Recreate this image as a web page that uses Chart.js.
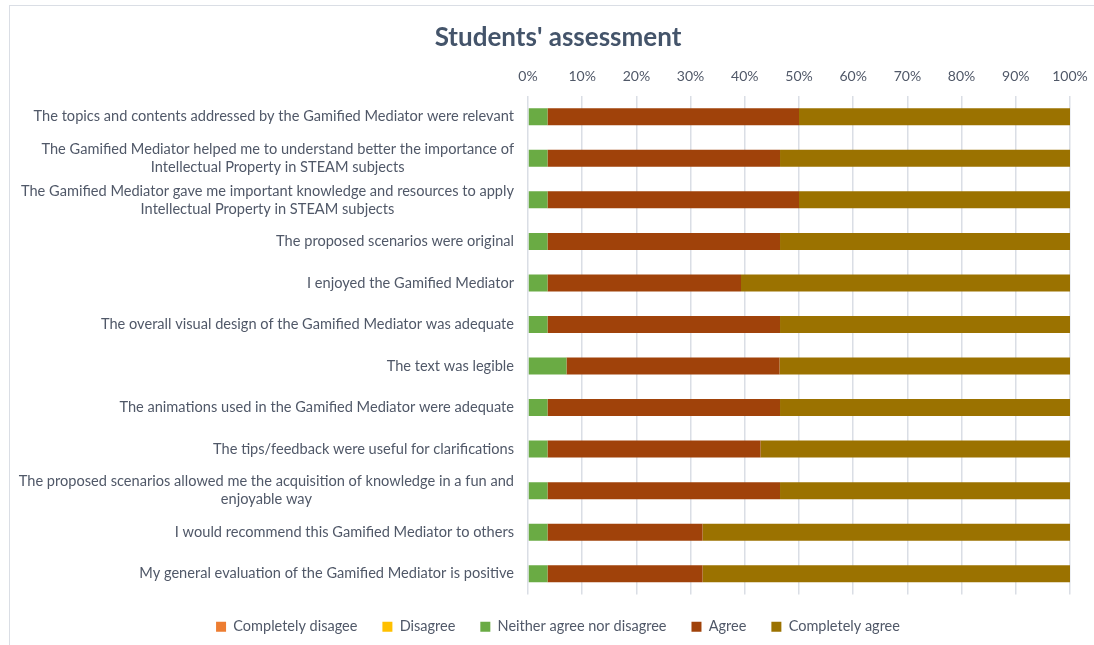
<!DOCTYPE html>
<html>
<head>
<meta charset="utf-8">
<script src="https://cdn.jsdelivr.net/npm/chart.js@4/dist/chart.umd.min.js"></script>
<style>
  html, body { margin: 0; padding: 0; background: #fff; overflow: hidden; }
  #frame { position: absolute; left: 9px; top: 5px; width: 1200px; height: 800px; border: 1px solid #dadee5; }
  #wrap { position: absolute; left: 0; top: 0; width: 1094px; height: 645px; }
</style>
</head>
<body>
<div id="frame"></div>
<div id="wrap"><canvas id="chart"></canvas></div>
<script>
// Survey statements (two-line entries keep the original line breaks)
const statements = [
    'The topics and contents addressed by the Gamified Mediator were relevant',
    ['The Gamified Mediator helped me to understand better the importance of', 'Intellectual Property in STEAM subjects'],
    ['The Gamified Mediator gave me important knowledge and resources to apply', 'Intellectual Property in STEAM subjects'],
    'The proposed scenarios were original',
    'I enjoyed the Gamified Mediator',
    'The overall visual design of the Gamified Mediator was adequate',
    'The text was legible',
    'The animations used in the Gamified Mediator were adequate',
    'The tips/feedback were useful for clarifications',
    ['The proposed scenarios allowed me the acquisition of knowledge in a fun and', 'enjoyable way'],
    'I would recommend this Gamified Mediator to others',
    'My general evaluation of the Gamified Mediator is positive'
];

// Share of answers (%)
const completelyDisagree = [0, 0, 0, 0, 0, 0, 0, 0, 0, 0, 0, 0];
const disagree           = [0, 0, 0, 0, 0, 0, 0, 0, 0, 0, 0, 0];
const neither            = [3.6, 3.6, 3.6, 3.6, 3.6, 3.6, 7.1, 3.6, 3.6, 3.6, 3.6, 3.6];
const agree              = [46.4, 42.9, 46.4, 42.9, 35.7, 42.9, 39.3, 42.9, 39.3, 42.9, 28.6, 28.6];
const completelyAgree    = [50.0, 53.5, 50.0, 53.5, 60.7, 53.5, 53.6, 53.5, 57.1, 53.5, 67.8, 67.8];

const xTicks = [0, 10, 20, 30, 40, 50, 60, 70, 80, 90, 100];

const TEXT = '#505868';
const FONT = 'Lato, "Open Sans", sans-serif';

// Excel-style category labels: each line centred under the widest one, block right-aligned
const centredLabels = {
    id: 'centredLabels',
    afterDraw(chart) {
        const { ctx, scales: { y } } = chart;
        ctx.save();
        ctx.font = '14.6px ' + FONT;
        ctx.fillStyle = TEXT;
        ctx.textAlign = 'center';
        ctx.textBaseline = 'middle';
        const right = y.right - 14;
        const lineH = 18;
        chart.data.labels.forEach((lab, i) => {
            const lines = Array.isArray(lab) ? lab : [lab];
            const w = Math.max(...lines.map(l => ctx.measureText(l).width));
            const cx = right - w / 2;
            const cy = y.getPixelForValue(i);
            lines.forEach((l, k) => {
                ctx.fillText(l, cx, cy + (k - (lines.length - 1) / 2) * lineH);
            });
        });
        ctx.restore();
    }
};

new Chart(document.getElementById('chart'), {
    type: 'bar',
    data: {
        labels: statements,
        datasets: [
            { label: 'Completely disagee', data: completelyDisagree, backgroundColor: '#ED7D31' },
            { label: 'Disagree', data: disagree, backgroundColor: '#FFC000' },
            { label: 'Neither agree nor disagree', data: neither, backgroundColor: '#6AAB44' },
            { label: 'Agree', data: agree, backgroundColor: '#A0420A' },
            { label: 'Completely agree', data: completelyAgree, backgroundColor: '#9B7200' }
        ]
    },
    options: {
        indexAxis: 'y',
        responsive: true,
        maintainAspectRatio: false,
        animation: false,
        layout: { padding: { left: 46, right: 24, top: 22, bottom: 1 } },
        datasets: { bar: { categoryPercentage: 1, barPercentage: 0.41, borderWidth: 0 } },
        scales: {
            x: {
                position: 'top',
                stacked: true,
                min: 0,
                max: 100,
                afterBuildTicks: (scale) => { scale.ticks = xTicks.map(v => ({ value: v })); },
                afterFit: (scale) => { scale.paddingRight = 0; scale.paddingLeft = 0; },
                ticks: {
                    padding: 11,
                    color: TEXT,
                    font: { family: FONT, size: 14 },
                    callback: (v) => v + '%'
                },
                grid: { color: '#dadee5', lineWidth: 1.5, drawTicks: false },
                border: { display: false }
            },
            y: {
                stacked: true,
                ticks: { display: false },
                grid: { display: false },
                border: { display: false },
                afterFit: (scale) => { scale.width = 482; }
            }
        },
        plugins: {
            title: {
                display: true,
                text: "Students' assessment",
                color: '#44546A',
                font: { family: FONT, size: 26, weight: 'bold' },
                padding: { top: 0, bottom: 4 }
            },
            legend: {
                position: 'bottom',
                labels: {
                    color: TEXT,
                    boxWidth: 10,
                    boxHeight: 10,
                    padding: 25,
                    font: { family: FONT, size: 14.5 }
                }
            },
            tooltip: { enabled: false }
        }
    },
    plugins: [centredLabels]
});
</script>
</body>
</html>
